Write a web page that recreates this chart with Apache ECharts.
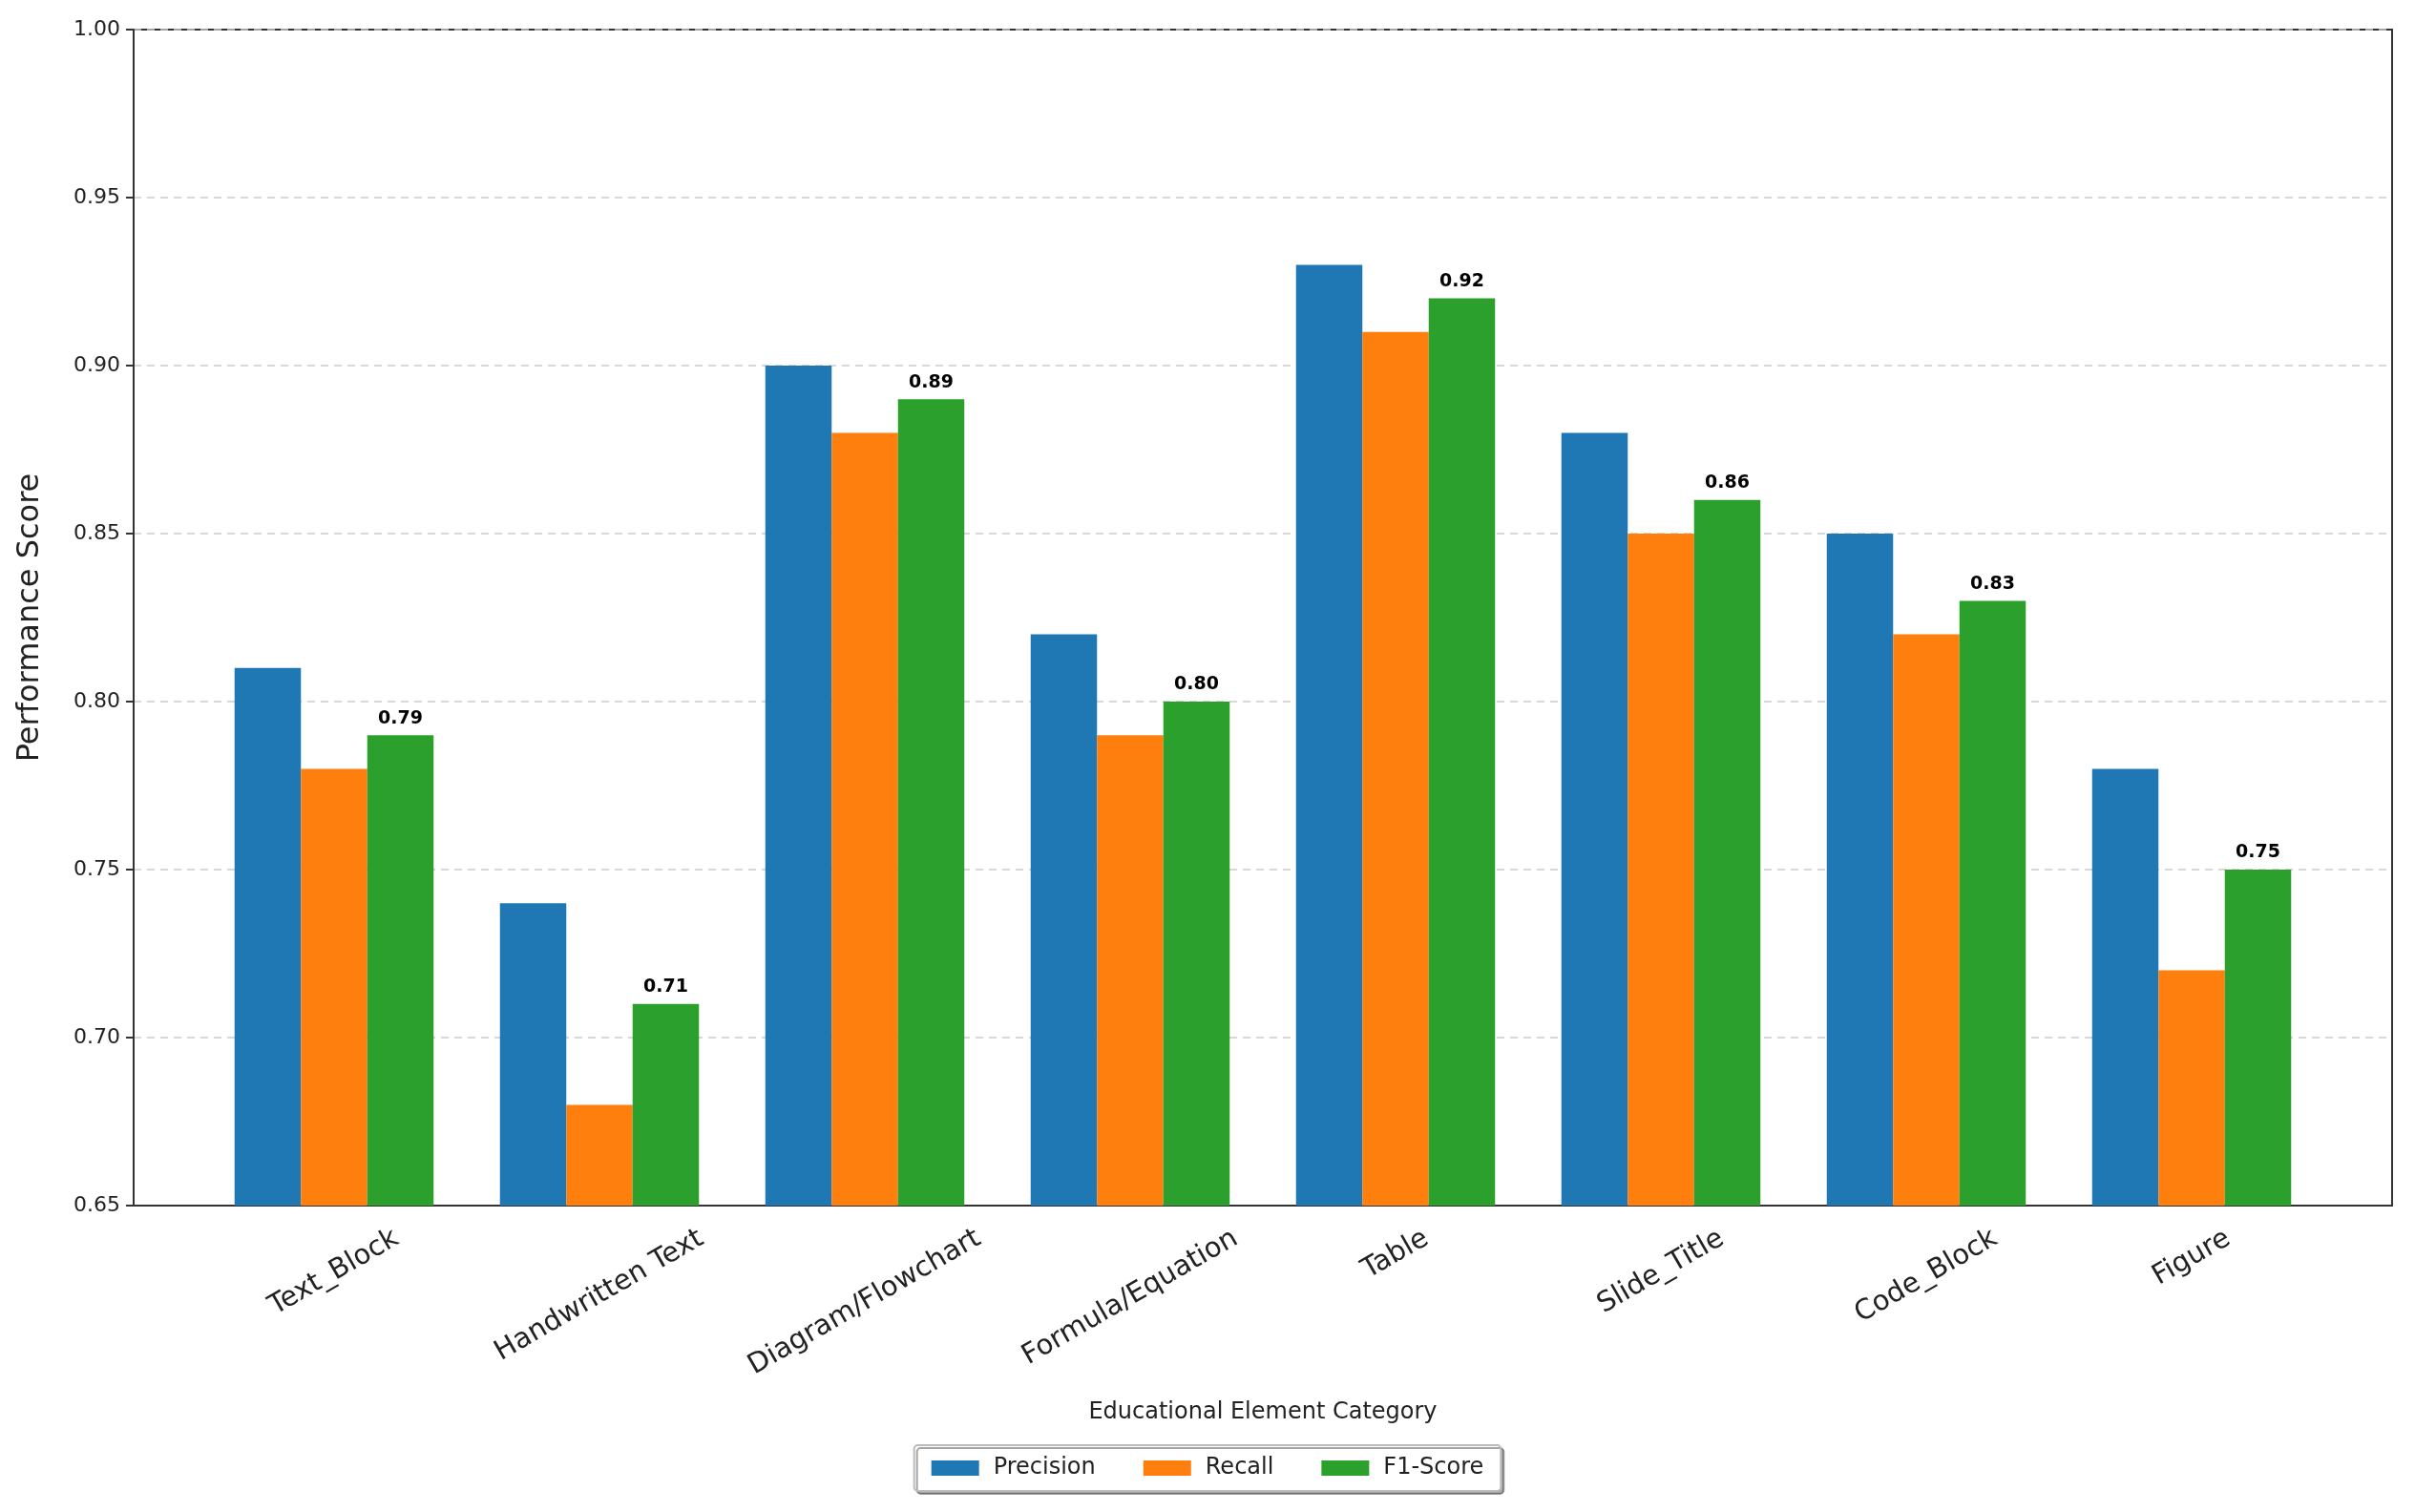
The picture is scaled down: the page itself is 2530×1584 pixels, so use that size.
<!DOCTYPE html>
<html>
<head>
<meta charset="utf-8">
<script src="https://cdn.jsdelivr.net/npm/echarts@6/dist/echarts.min.js"></script>
<style>html,body{margin:0;padding:0;background:#fff}#chart{width:2530px;height:1584px}</style>
</head>
<body>
<div id="chart"></div>
<script>
// 类别与数据
var categories = ['Text_Block', 'Handwritten Text', 'Diagram/Flowchart', 'Formula/Equation', 'Table', 'Slide_Title', 'Code_Block', 'Figure'];
var precision = [0.81, 0.74, 0.90, 0.82, 0.93, 0.88, 0.85, 0.78];
var recall = [0.78, 0.68, 0.88, 0.79, 0.91, 0.85, 0.82, 0.72];
var f1 = [0.79, 0.71, 0.89, 0.80, 0.92, 0.86, 0.83, 0.75];

var chart = echarts.init(document.getElementById('chart'));
var font = 'DejaVu Sans';
var labelSize = 29;
function bar(name, data, color, label) {
	return {
		name: name,
		type: 'bar',
		data: data,
		barGap: '0%',
		barCategoryGap: '25%',
		itemStyle: { color: color },
		label: {
			show: label,
			position: 'top',
			distance: 8,
			fontFamily: font,
			fontWeight: 'bold',
			fontSize: 19,
			color: '#000',
			formatter: function (p) { return p.value.toFixed(2); }
		}
	};
}
var yCommon = { type: 'value', min: 0.65, max: 1.0, interval: 0.05 };
chart.setOption({
	animation: false,
	textStyle: { fontFamily: font },
	grid: [
		// 柱子区域(左右留白)
		{ left: 211, right: 95, top: 31, bottom: 321 },
		// 外框 + y轴
		{ left: 140, right: 24, top: 31, bottom: 321, show: true, borderColor: '#333', borderWidth: 2, backgroundColor: 'transparent' }
	],
	legend: {
		bottom: 22,
		left: 'center',
		itemWidth: 50,
		itemHeight: 16,
		itemGap: 50,
		padding: [12, 18],
		borderColor: '#bbb',
		borderWidth: 2,
		borderRadius: 4,
		shadowColor: 'rgba(0,0,0,0.35)',
		shadowBlur: 0,
		shadowOffsetX: 3,
		shadowOffsetY: 3,
		backgroundColor: '#fff',
		icon: 'rect',
		textStyle: { fontSize: 24, color: '#222', fontFamily: font, padding: [0, 0, 0, 10] },
		data: ['Precision', 'Recall', 'F1-Score']
	},
	xAxis: [
		{
			gridIndex: 0,
			type: 'category',
			data: categories,
			axisLine: { show: false },
			axisTick: { alignWithLabel: true, length: 8, lineStyle: { color: '#333', width: 2 } },
			axisLabel: { show: false }
		},
		{
			gridIndex: 1,
			type: 'value',
			min: 0, max: 1,
			name: 'Educational Element Category',
			nameLocation: 'middle',
			nameGap: 205,
			nameTextStyle: { fontSize: 24, color: '#222' },
			axisLine: { show: true, lineStyle: { color: '#333', width: 2 } },
			axisTick: { show: false },
			axisLabel: { show: false },
			splitLine: { show: false }
		}
	],
	yAxis: [
		Object.assign({ gridIndex: 0, show: false, splitLine: { show: false } }, yCommon),
		Object.assign({
			gridIndex: 1,
			name: 'Performance Score',
			nameLocation: 'middle',
			nameGap: 92,
			nameTextStyle: { fontSize: 32, color: '#222' },
			axisLine: { show: true, lineStyle: { color: '#333', width: 2 } },
			axisTick: { show: true, length: 8, lineStyle: { color: '#333', width: 2 } },
			axisLabel: { fontSize: 22, color: '#222', margin: 14, formatter: function (v) { return v.toFixed(2); } },
			splitLine: { lineStyle: { type: [8, 6], color: '#ccc', width: 1.5 } }
		}, yCommon)
	],
	series: [
		bar('Precision', precision, '#1f77b4', false),
		bar('Recall', recall, '#ff7f0e', false),
		bar('F1-Score', f1, '#2ca02c', true)
	]
});

// 旋转的类别标签,文字中心对准刻度(同 matplotlib ha=center)
var ctx = document.createElement('canvas').getContext('2d');
ctx.font = labelSize + 'px ' + font;
var ang = 30 * Math.PI / 180;
var axisY = 1584 - 321;
var texts = categories.map(function (c) {
	var x = chart.convertToPixel({ xAxisIndex: 0 }, c);
	var w = ctx.measureText(c).width;
	var h = labelSize * 1.15;
	var halfH = (w * Math.sin(ang) + h * Math.cos(ang)) / 2;
	return {
		type: 'text',
		x: x,
		y: axisY + 18 + halfH,
		rotation: ang,
		style: { text: c, fontSize: labelSize, fontFamily: font, fill: '#222', align: 'center', verticalAlign: 'middle' }
	};
});
chart.setOption({ graphic: texts });
</script>
</body>
</html>
